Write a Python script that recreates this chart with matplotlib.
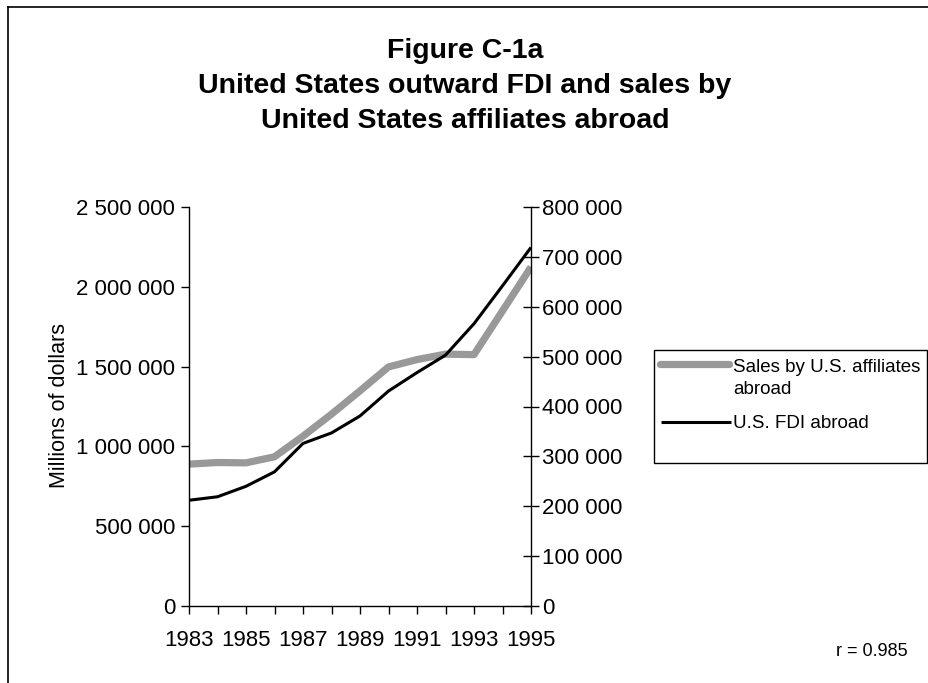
import matplotlib.pyplot as plt
from matplotlib.lines import Line2D
from matplotlib.patches import Rectangle
from matplotlib.ticker import FuncFormatter, MultipleLocator

plt.rcParams["font.family"] = ["Liberation Sans", "DejaVu Sans"]

years = [1983, 1984, 1985, 1986, 1987, 1988, 1989, 1990, 1991, 1992, 1993, 1994, 1995]
sales_abroad = [889000, 899000, 897000, 935000, 1064000, 1202000, 1348000,
                1498000, 1544000, 1578000, 1575000, 1849000, 2124000]
fdi_abroad = [212000, 219000, 240000, 269000, 326000, 347000, 381000,
              431000, 468000, 503000, 566000, 642000, 719000]
year_labels = [1983, 1985, 1987, 1989, 1991, 1993, 1995]

SALES_COLOR = "#999999"


def space_thousands(v, pos=None):
    return f"{int(v):,}".replace(",", " ")


W, H = 929, 683
fig = plt.figure(figsize=(W / 100, H / 100), dpi=100)
fig.patch.set_facecolor("white")


def fx(px):
    return px / W


def fy(py):
    return 1 - py / H


# page border (only top and left edges visible)
fig.add_artist(Line2D([fx(8), fx(8)], [0, fy(7)], color="black", lw=1.2))
fig.add_artist(Line2D([fx(8), 1], [fy(7), fy(7)], color="black", lw=1.2))

left, right, top, bottom = 189, 531, 207, 606
ax = fig.add_axes([fx(left), fy(bottom), (right - left) / W, (bottom - top) / H])
ax2 = ax.twinx()

ax.plot(years, sales_abroad, color=SALES_COLOR, lw=5.2, solid_capstyle="butt")
ax2.plot(years, fdi_abroad, color="black", lw=2.2, solid_capstyle="butt")
ax.set_zorder(ax2.get_zorder() - 1)
ax2.patch.set_visible(False)

ax.set_xlim(1983, 1995)
ax.set_ylim(0, 2500000)
ax2.set_ylim(0, 800000)
ax.set_xticks(years)
ax.set_xticklabels([str(y) if y in year_labels else "" for y in years])
ax.yaxis.set_major_locator(MultipleLocator(500000))
ax2.yaxis.set_major_locator(MultipleLocator(100000))
ax.yaxis.set_major_formatter(FuncFormatter(space_thousands))
ax2.yaxis.set_major_formatter(FuncFormatter(space_thousands))

for a in (ax, ax2):
    for s in a.spines.values():
        s.set_linewidth(1.0)
    a.spines["top"].set_visible(False)
ax.spines["right"].set_visible(False)
ax2.spines["left"].set_visible(False)
ax2.spines["bottom"].set_visible(False)

ax.tick_params(axis="x", direction="out", length=6, width=1, labelsize=16, pad=11)
ax.tick_params(axis="y", direction="out", length=6, width=1, labelsize=16, pad=4)
ax2.tick_params(axis="y", direction="inout", length=12, width=1, labelsize=16, pad=2)

fig.text(fx(60), fy(406), "Millions of dollars", rotation=90, ha="center",
         va="center", fontsize=15.5)

fig.text(fx(465), fy(86),
         "Figure C-1a\nUnited States outward FDI and sales by\nUnited States affiliates abroad",
         ha="center", va="center", fontsize=20.5, fontweight="bold", linespacing=1.45)

# legend box, laid out like the original (handle level with the first text line)
fig.add_artist(Rectangle((fx(654), fy(463)), (927 - 654) / W, (463 - 350) / H,
                         transform=fig.transFigure, fill=False, ec="black", lw=1.0))
fig.add_artist(Line2D([fx(660), fx(729)], [fy(364), fy(364)], color=SALES_COLOR,
                      lw=5.2, solid_capstyle="round"))
fig.add_artist(Line2D([fx(661), fx(731)], [fy(422), fy(422)], color="black",
                      lw=2.2, solid_capstyle="butt"))
fig.text(fx(733), fy(368), "Sales by U.S. affiliates", ha="left", va="center",
         fontsize=13.5)
fig.text(fx(733), fy(389), "abroad", ha="left", va="center", fontsize=13.5)
fig.text(fx(733), fy(423), "U.S. FDI abroad", ha="left", va="center", fontsize=13.5)

fig.text(fx(908), fy(652), "r = 0.985", ha="right", va="center", fontsize=13)

fig.savefig("out.png", dpi=100, facecolor="white")
